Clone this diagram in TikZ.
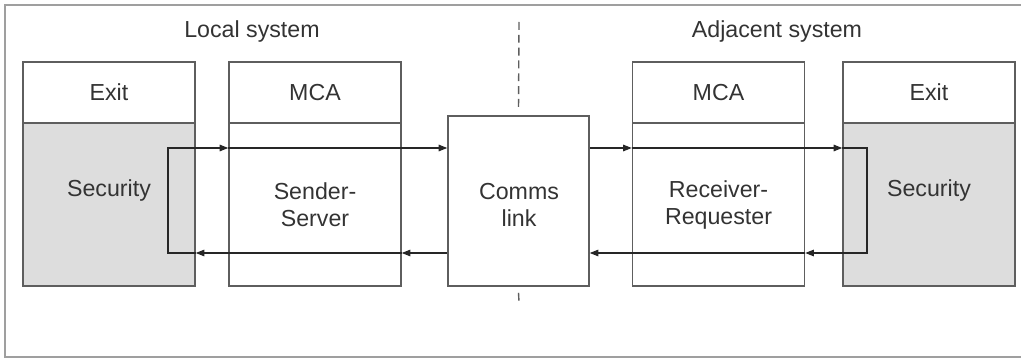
\documentclass[tikz,border=0pt]{standalone}
\usepackage{fontspec}
\setmainfont{Liberation Sans}
\usetikzlibrary{arrows.meta}
\definecolor{linegray}{HTML}{5E5E5E}
\definecolor{secgray}{HTML}{DDDDDD}
\definecolor{txtgray}{HTML}{333333}
\tikzset{
  hdr/.style={draw=linegray, line width=0.9pt, minimum width=3.44cm, minimum height=1.22cm, inner sep=0pt, text=txtgray},
  bodybox/.style={draw=linegray, line width=0.9pt, minimum width=3.44cm, minimum height=3.26cm, inner sep=0pt},
  lbl/.style={text=txtgray, align=center, inner sep=0pt},
  flow/.style={draw=black!85, line width=0.65pt},
  tip/.style={flow, -{Triangle[length=1.7mm,width=1.3mm]}},
  divider/.style={draw=linegray, line width=0.8pt, dash pattern=on 4.5pt off 2.8pt},
}
\begin{document}
\begin{tikzpicture}[x=0.02cm, y=-0.02cm, font=\fontsize{13.2}{15.6}\selectfont]
	\useasboundingbox (0,0) rectangle (1021,358);
	\draw[gray!75, line width=1pt] (5,5) rectangle (1030,357);

	% Local system
	\node[lbl] (locTitle) at (252,32) {Local system};
	\node[hdr] (exitLh) at (109,92.5) {Exit};
	\node[bodybox, fill=secgray] (exitLb) at (109,204.5) {};
	\node[lbl] (secL) at (109,191) {Security};
	\node[hdr] (mcaLh) at (315,92.5) {MCA};
	\node[bodybox] (mcaLb) at (315,204.5) {};
	\node[lbl] (sendL) at (315,205) {Sender-\\Server};

	% Comms link and divider
	\node[draw=linegray, line width=0.9pt, minimum width=2.82cm, minimum height=3.4cm] (comms) at (518.5,201) {};
	\node[lbl] (commsL) at (519,205) {Comms\\link};
	\coordinate (dashTop) at (519,22);
	\coordinate (dashBot) at (519,302);
	\draw[divider] (dashTop) -- ([yshift=0.1cm]comms.north);
	\draw[divider] ([yshift=-0.12cm]comms.south) -- (dashBot);

	% Adjacent system
	\node[lbl] (adjTitle) at (777,32) {Adjacent system};
	\node[hdr] (mcaRh) at (718.5,92.5) {MCA};
	\node[bodybox] (mcaRb) at (718.5,204.5) {};
	\node[lbl] (recvR) at (718.5,205) {Receiver-\\Requester};
	\node[hdr] (exitRh) at (929,92.5) {Exit};
	\node[bodybox, fill=secgray] (exitRb) at (929,204.5) {};
	\node[lbl] (secR) at (929,191) {Security};

	% flows
	\coordinate (upL) at (168,148);
	\coordinate (lowL) at (168,253);
	\coordinate (upR) at (867,148);
	\coordinate (lowR) at (867,253);

	\draw[tip] (exitLb.east |- lowL) -- (lowL) -- (upL) -- (mcaLb.west |- upL);
	\draw[tip] (mcaLb.west |- upL) -- (comms.west |- upL);
	\draw[tip] (comms.west |- lowL) -- (mcaLb.east |- lowL);
	\draw[tip] (mcaLb.east |- lowL) -- (exitLb.east |- lowL);

	\draw[tip] (comms.east |- upR) -- (mcaRb.west |- upR);
	\draw[tip] (mcaRb.west |- upR) -- (exitRb.west |- upR);
	\draw[tip] (exitRb.west |- upR) -- (upR) -- (lowR) -- (mcaRb.east |- lowR);
	\draw[tip] (mcaRb.east |- lowR) -- (comms.east |- lowR);
\end{tikzpicture}
\end{document}
